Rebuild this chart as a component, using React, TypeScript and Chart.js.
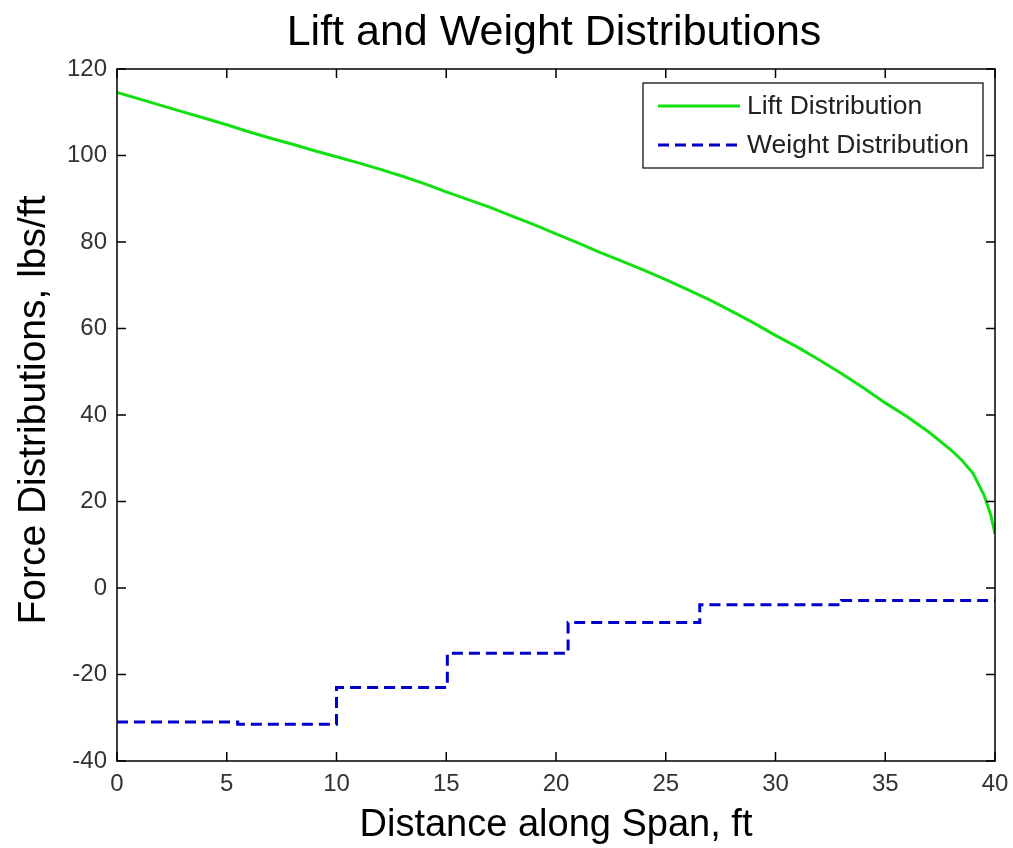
import React, { useEffect, useRef } from "react";
import { Chart, registerables } from "chart.js";

Chart.register(...registerables);

const chartTitle = "Lift and Weight Distributions";
const xAxisTitle = "Distance along Span, ft";
const yAxisTitle = "Force Distributions, lbs/ft";

const liftLabel = "Lift Distribution";
const weightLabel = "Weight Distribution";

const liftX = [0, 1, 2, 3, 4, 5, 6, 7, 8, 9, 10, 11, 12, 13, 14, 15, 16, 17, 18, 19, 20, 21, 22, 23, 24, 25, 26, 27, 28, 29, 30, 31, 32, 33, 34, 35, 36, 37, 38, 38.5, 39, 39.5, 39.8, 40];
const liftY = [114.6, 113.1, 111.6, 110.1, 108.6, 107.1, 105.5, 104.0, 102.6, 101.1, 99.7, 98.3, 96.8, 95.2, 93.5, 91.6, 89.8, 88.0, 86.0, 84.0, 81.9, 79.8, 77.6, 75.6, 73.5, 71.3, 69.0, 66.6, 64.0, 61.3, 58.4, 55.7, 52.7, 49.6, 46.3, 42.8, 39.6, 36.0, 31.9, 29.5, 26.5, 21.5, 17.0, 12.5];

const weightX = [0, 5.5, 10, 15.05, 20.55, 26.55, 33.0, 40];
const weightY = [-31.0, -31.5, -23.0, -15.1, -8.0, -3.9, -2.9, -2.9];

const xTickStep = 5;
const yTickStep = 20;

const liftColor = "#12e012";
const weightColor = "#0000c8";
const FONT = "Arial, 'Liberation Sans', Helvetica, sans-serif";

const boxPlugin = {
  id: "matlabBox",
  afterDraw(chart: any) {
    const ctx = chart.ctx;
    const a = chart.chartArea;
    const xs = chart.scales.x;
    const ys = chart.scales.y;
    ctx.save();
    ctx.strokeStyle = "#000";
    ctx.lineWidth = 1.5;
    ctx.strokeRect(a.left, a.top, a.right - a.left, a.bottom - a.top);
    const tl = 9;
    ctx.lineWidth = 1.5;
    ctx.beginPath();
    xs.ticks.forEach((t: any) => {
      const px = xs.getPixelForValue(t.value);
      ctx.moveTo(px, a.bottom);
      ctx.lineTo(px, a.bottom - tl);
      ctx.moveTo(px, a.top);
      ctx.lineTo(px, a.top + tl);
    });
    ys.ticks.forEach((t: any) => {
      const py = ys.getPixelForValue(t.value);
      ctx.moveTo(a.left, py);
      ctx.lineTo(a.left + tl, py);
      ctx.moveTo(a.right, py);
      ctx.lineTo(a.right - tl, py);
    });
    ctx.stroke();

    // titles
    ctx.fillStyle = "#000";
    ctx.textAlign = "center";
    ctx.textBaseline = "alphabetic";
    const cx = (a.left + a.right) / 2;
    ctx.font = `43px ${FONT}`;
    ctx.fillText(chartTitle, cx - 2, 45);
    ctx.font = `38px ${FONT}`;
    ctx.fillText(xAxisTitle, cx, 836);
    ctx.save();
    ctx.font = `39px ${FONT}`;
    ctx.translate(45, (a.top + a.bottom) / 2 - 5);
    ctx.rotate(-Math.PI / 2);
    ctx.fillText(yAxisTitle, 0, 0);
    ctx.restore();

    // legend
    const bx = a.right - 352;
    const by = a.top + 14;
    const bw = 340;
    const bh = 85;
    ctx.fillStyle = "#fff";
    ctx.fillRect(bx, by, bw, bh);
    ctx.strokeStyle = "#000";
    ctx.lineWidth = 1.2;
    ctx.strokeRect(bx, by, bw, bh);
    const rows = [
      { ds: chart.data.datasets[0], y: by + 23 },
      { ds: chart.data.datasets[1], y: by + 62 },
    ];
    rows.forEach((r) => {
      ctx.save();
      ctx.strokeStyle = r.ds.borderColor;
      ctx.lineWidth = 3;
      ctx.setLineDash(r.ds.borderDash || []);
      ctx.beginPath();
      ctx.moveTo(bx + 15, r.y);
      ctx.lineTo(bx + 97, r.y);
      ctx.stroke();
      ctx.restore();
      ctx.fillStyle = "#222";
      ctx.font = `26.5px ${FONT}`;
      ctx.textAlign = "left";
      ctx.textBaseline = "middle";
      ctx.fillText(r.ds.label, bx + 104, r.y + 1);
    });
    ctx.restore();
  },
};

export default function App() {
  const ref = useRef<HTMLCanvasElement>(null);
  useEffect(() => {
    document.body.style.margin = "0";
    const canvas = ref.current!;
    const chart = new Chart(canvas, {
      type: "line",
      data: {
        datasets: [
          {
            label: liftLabel,
            data: liftX.map((x, i) => ({ x, y: liftY[i] })),
            borderColor: liftColor,
            backgroundColor: liftColor,
            borderWidth: 3,
            pointRadius: 0,
            tension: 0,
          },
          {
            label: weightLabel,
            data: weightX.map((x, i) => ({ x, y: weightY[i] })),
            borderColor: weightColor,
            backgroundColor: weightColor,
            borderWidth: 3,
            borderDash: [11, 6],
            pointRadius: 0,
            stepped: "before",
          },
        ],
      },
      options: {
        responsive: false,
        animation: false,
        devicePixelRatio: 1,
        layout: { padding: { top: 69, right: 18, left: 0, bottom: 0 } },
        plugins: {
          legend: { display: false },
          title: { display: false },
          tooltip: { enabled: false },
        },
        scales: {
          x: {
            type: "linear",
            min: 0,
            max: 40,
            ticks: {
              stepSize: xTickStep,
              color: "#333",
              font: { size: 24, family: FONT },
              padding: 9,
              maxRotation: 0,
            },
            grid: { display: false, drawTicks: false },
            border: { display: false },
            afterFit: (s: any) => {
              s.height = 87;
              s.paddingLeft = 0;
              s.paddingRight = 0;
            },
          },
          y: {
            type: "linear",
            min: -40,
            max: 120,
            ticks: {
              stepSize: yTickStep,
              color: "#333",
              font: { size: 24, family: FONT },
              padding: 10,
            },
            grid: { display: false, drawTicks: false },
            border: { display: false },
            afterFit: (s: any) => {
              s.width = 117;
              s.paddingTop = 0;
              s.paddingBottom = 0;
            },
          },
        },
      },
      plugins: [boxPlugin],
    });
    return () => chart.destroy();
  }, []);
  return (
    <div style={{ position: "absolute", left: 0, top: 0, width: 1013, height: 848, background: "#fff" }}>
      <canvas ref={ref} width={1013} height={848} style={{ display: "block" }} />
    </div>
  );
}
